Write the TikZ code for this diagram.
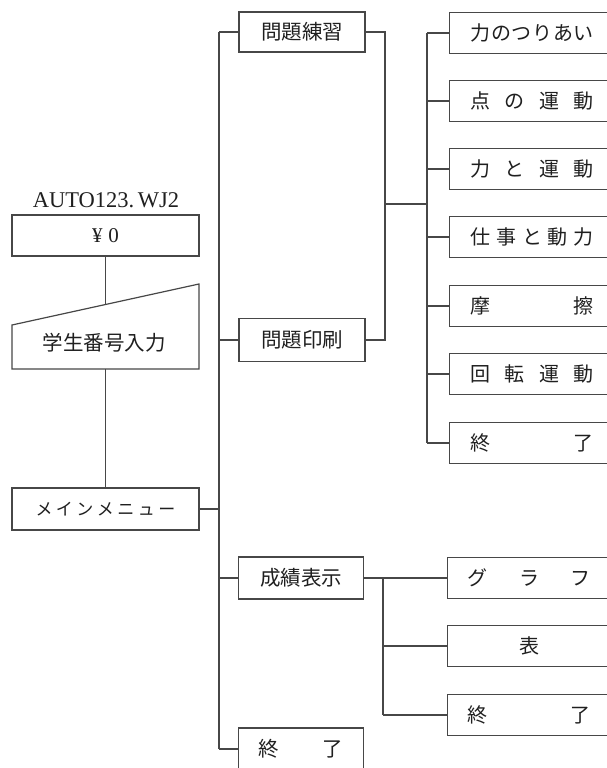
\documentclass[tikz,border=0pt]{standalone}
\usepackage{fontspec}
\setmainfont{Liberation Serif}
\newfontfamily\jp{Noto Sans CJK JP}
\definecolor{linec}{gray}{0.28}
\definecolor{txt}{gray}{0.12}
\begin{document}
\begin{tikzpicture}[x=1pt,y=-1pt,
  wire/.style={draw=linec, line width=1.2pt},
  box/.style={draw=linec, line width=1.2pt, inner sep=0pt, minimum height=41pt, text=txt, font=\jp\fontsize{20.5}{20}\selectfont},
  rbox/.style={box, anchor=west, text width=190pt, align=left, inner xsep=21pt, font=\jp\fontsize{20}{20}\selectfont},
  bbox/.style={rbox, inner xsep=20pt}]
\useasboundingbox (0,0) rectangle (607,768);
\clip (0,0) rectangle (607,768);
% left column
\node[text=txt, font=\fontsize{22.5}{22}\selectfont] (title) at (106,200) {AUTO123.\,WJ2};
\node[box, minimum width=187pt, font=\fontsize{21}{21}\selectfont] (yen) at (105.5,235.5) {¥\;0};
\coordinate (tl) at (12,325);
\coordinate (tr) at (199,284);
\coordinate (br) at (199,369);
\coordinate (bl) at (12,369);
\draw[wire] (tl) -- (tr) -- (br) -- (bl) -- cycle;
\node[text=txt, font=\jp\fontsize{20.5}{20}\selectfont] (inp) at (104,343) {学生番号入力};
\coordinate (intop) at (105.5,304.6);
\coordinate (inbot) at (105.5,369);
\node[box, minimum width=187pt, minimum height=42pt, font=\jp\fontsize{17}{17}\selectfont] (menu) at (105.5,509) {\makebox[140pt][s]{メ\hfill イ\hfill ン\hfill メ\hfill ニ\hfill ュ\hfill ー}};
\draw[wire] (yen.south) -- (intop);
\draw[wire] (inbot) -- (menu.north);
% main trunk
\coordinate (t1) at (219,32);
\coordinate (t2) at (219,749);
\draw[wire] (t1) -- (t2);
\draw[wire] (menu.east) -- (menu.east -| t1);
% middle column
\node[box, minimum width=126pt, minimum height=40pt] (mp) at (302,32) {問題練習};
\node[box, minimum width=126pt, minimum height=43pt] (mi) at (302,340) {問題印刷};
\node[box, minimum width=125pt, minimum height=42pt] (ms) at (301,578) {成績表示};
\node[box, minimum width=125pt, minimum height=42pt] (me) at (301,749) {\makebox[85pt][s]{終\hfill 了}};
\foreach \n in {mp,mi,ms,me} \draw[wire] (\n.west) -- (\n.west -| t1);
% problem branch
\coordinate (j1) at (385,32);
\coordinate (j2) at (385,340);
\coordinate (j3) at (385,204);
\draw[wire] (mp.east) -- (j1) -- (j2) -- (mi.east);
\coordinate (rt1) at (427,33);
\coordinate (rt2) at (427,443);
\draw[wire] (rt1) -- (rt2);
\draw[wire] (j3) -- (j3 -| rt1);
\node[rbox] (r1) at (449,33) {\makebox[123pt][s]{力\hfill の\hfill つ\hfill り\hfill あ\hfill い}};
\node[rbox] (r2) at (449,101) {\makebox[123pt][s]{点\hfill の\hfill 運\hfill 動}};
\node[rbox] (r3) at (449,169) {\makebox[123pt][s]{力\hfill と\hfill 運\hfill 動}};
\node[rbox] (r4) at (449,237) {\makebox[123pt][s]{仕\hfill 事\hfill と\hfill 動\hfill 力}};
\node[rbox] (r5) at (449,306) {\makebox[123pt][s]{摩\hfill 擦}};
\node[rbox] (r6) at (449,374) {\makebox[123pt][s]{回\hfill 転\hfill 運\hfill 動}};
\node[rbox] (r7) at (449,443) {\makebox[123pt][s]{終\hfill 了}};
\foreach \n in {r1,r2,r3,r4,r5,r6,r7} \draw[wire] (\n.west) -- (\n.west -| rt1);
% results branch
\node[bbox] (g1) at (447,578) {\makebox[123pt][s]{グ\hfill ラ\hfill フ}};
\node[bbox] (g2) at (447,646) {\makebox[123pt][c]{表}};
\node[bbox] (g3) at (447,715) {\makebox[123pt][s]{終\hfill 了}};
\coordinate (bt1) at (383,578);
\coordinate (bt2) at (383,715);
\draw[wire] (ms.east) -- (g1.west);
\draw[wire] (bt1) -- (bt2);
\draw[wire] (g2.west) -- (g2.west -| bt1);
\draw[wire] (g3.west) -- (g3.west -| bt1);
\end{tikzpicture}
\end{document}
